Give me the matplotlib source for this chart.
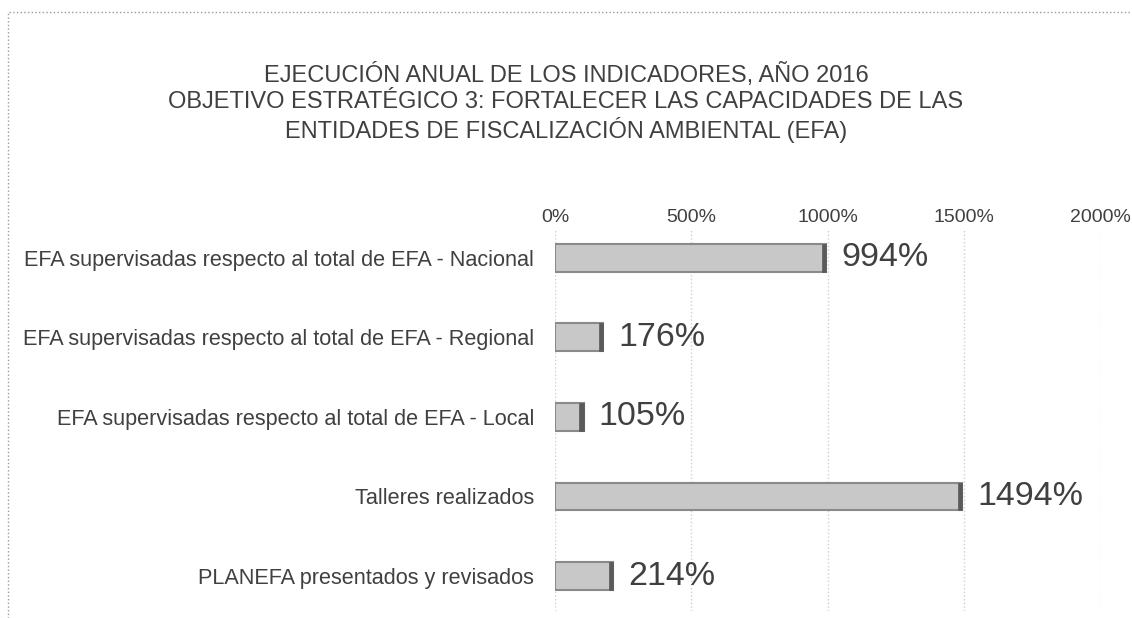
import matplotlib.pyplot as plt
from matplotlib.patches import Rectangle

plt.rcParams['font.family'] = ['Liberation Sans Narrow', 'Liberation Sans', 'DejaVu Sans']

categorias = ['EFA supervisadas respecto al total de EFA - Nacional',
              'EFA supervisadas respecto al total de EFA - Regional',
              'EFA supervisadas respecto al total de EFA - Local',
              'Talleres realizados',
              'PLANEFA presentados y revisados']
valores = [994, 176, 105, 1494, 214]
ticks = [0, 500, 1000, 1500, 2000]

texto = '#404040'

fig = plt.figure(figsize=(11.32, 6.18), dpi=100)
ax = fig.add_axes([0.4903, 0.0113, 0.4815, 0.6165])

y = list(range(len(categorias)))
ax.barh(y, valores, height=0.35, color='#c8c8c8', edgecolor='#8a8a8a', linewidth=1.5, zorder=3)
# extremo oscuro de cada barra
cap = 16
ax.barh(y, [cap] * len(valores), left=[v - cap for v in valores], height=0.35,
        color='#5a5a5a', edgecolor='#5a5a5a', linewidth=0.5, zorder=4)

for yi, v in zip(y, valores):
    ax.text(v + 55, yi, f'{v}%', va='center', ha='left', fontsize=24.5, color=texto)

ax.set_xlim(0, 2000)
ax.set_ylim(4.44, -0.35)
ax.set_xticks(ticks)
ax.set_xticklabels([f'{t}%' for t in ticks], fontsize=14, color=texto)
ax.xaxis.tick_top()
ax.tick_params(axis='x', length=0, pad=3)
ax.set_yticks(y)
ax.set_yticklabels(categorias, fontsize=15.6, color=texto)
ax.tick_params(axis='y', length=0, pad=15)
ax.grid(axis='x', color='#cfcfcf', linestyle=':', linewidth=1, zorder=0)
for s in ax.spines.values():
    s.set_visible(False)

fig.text(0.5, 0.833,
         'EJECUCIÓN ANUAL DE LOS INDICADORES, AÑO 2016\n'
         'OBJETIVO ESTRATÉGICO 3: FORTALECER LAS CAPACIDADES DE LAS\n'
         'ENTIDADES DE FISCALIZACIÓN AMBIENTAL (EFA)',
         ha='center', va='center', fontsize=17, color=texto, linespacing=1.2)

fig.patches.append(Rectangle((0.007, -0.1), 1.1, 1.08, transform=fig.transFigure,
                             fill=False, edgecolor='#9a9a9a', linestyle=':', linewidth=1))

fig.savefig('out.png', dpi=100)
